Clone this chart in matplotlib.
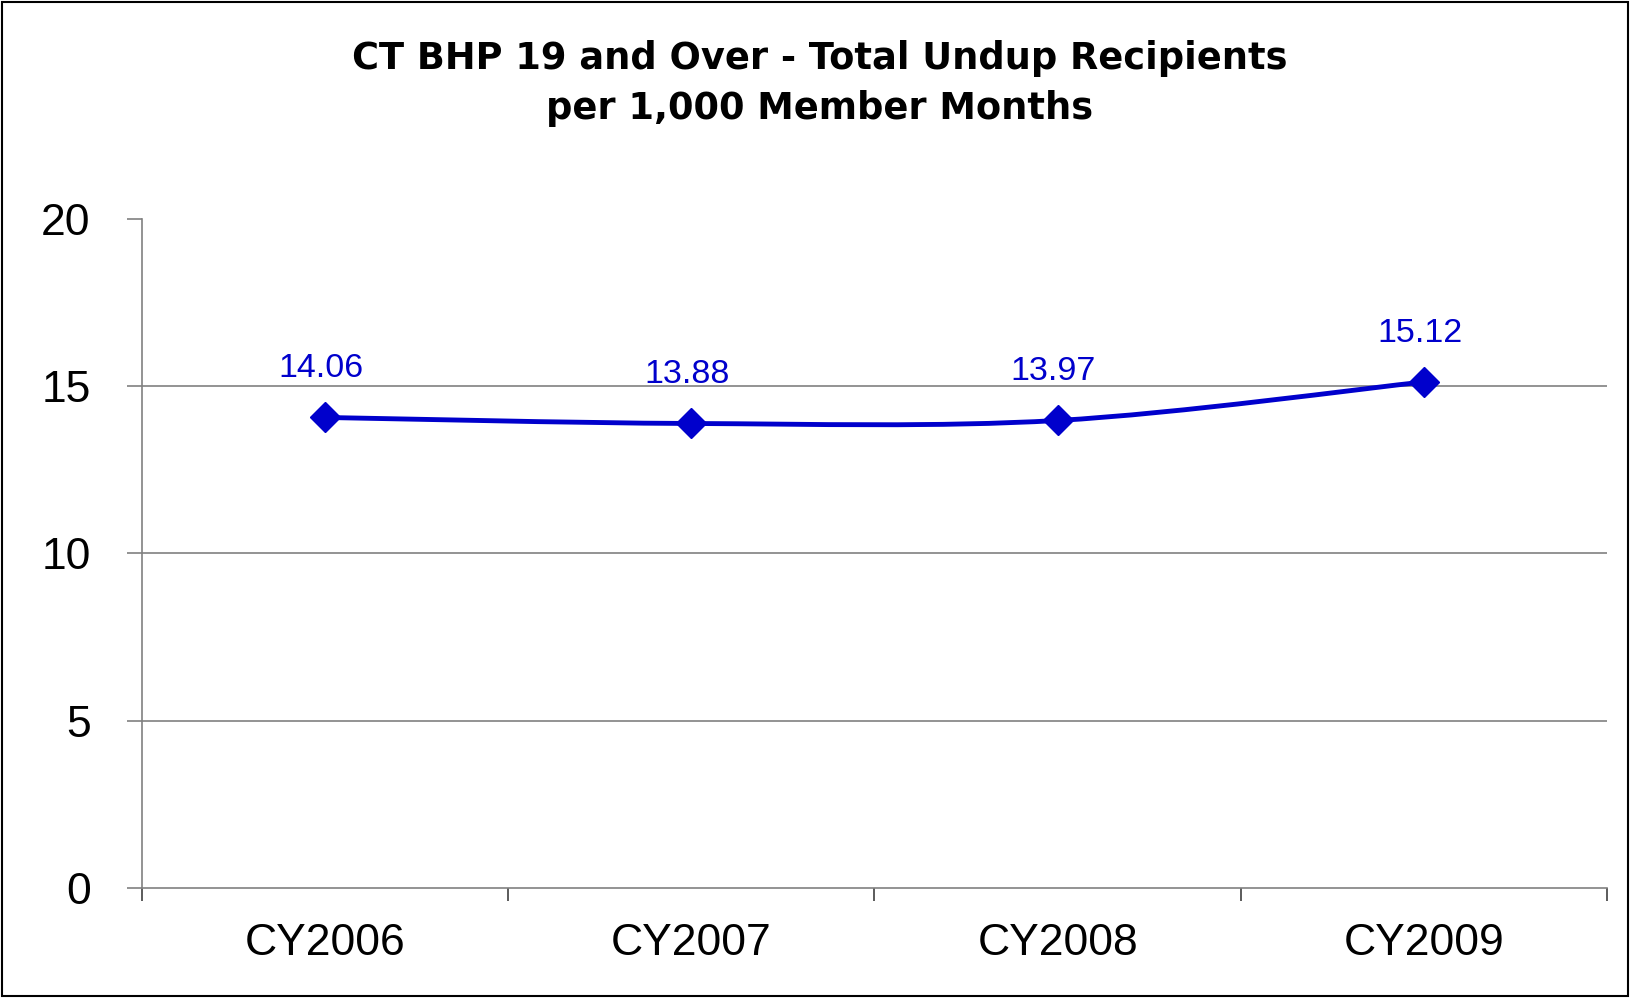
import numpy as np
import matplotlib.pyplot as plt
from matplotlib.path import Path
from matplotlib.patches import PathPatch, Rectangle

years = ['CY2006', 'CY2007', 'CY2008', 'CY2009']
rates = [14.06, 13.88, 13.97, 15.12]
y_ticks = [0, 5, 10, 15, 20]

blue = '#0000CC'
gray = '#808080'


def smooth_path(xs, ys):
    # excel style smoothed line: bezier segments through the data points
    pts = np.column_stack([xs, ys]).astype(float)
    n = len(pts)
    verts = [pts[0]]
    codes = [Path.MOVETO]
    for i in range(n - 1):
        p0 = pts[i - 1] if i > 0 else pts[i]
        p1 = pts[i]
        p2 = pts[i + 1]
        p3 = pts[i + 2] if i + 2 < n else pts[i + 1]
        c1 = p1 + (p2 - p0) / 6.0
        c2 = p2 - (p3 - p1) / 6.0
        verts += [c1, c2, p2]
        codes += [Path.CURVE4] * 3
    return Path(verts, codes)


plt.rcParams['font.family'] = ['Liberation Sans', 'DejaVu Sans']

fig = plt.figure(figsize=(16.33, 9.98), dpi=100)
ax = fig.add_axes([0.087, 0.110, 0.897, 0.671])

x = np.arange(len(years))
ax.add_patch(PathPatch(smooth_path(x, rates), facecolor='none', edgecolor=blue,
                       lw=3.5, capstyle='round', zorder=3))
ax.plot(x, rates, linestyle='none', marker='D', ms=15, color=blue, zorder=4)

for xi, v in zip(x, rates):
    ax.annotate(f'{v:.2f}', (xi, v), xytext=(-3, 35), textcoords='offset points',
                ha='center', va='center', fontsize=24.5, color=blue)

ax.set_xlim(-0.5, len(years) - 0.5)
ax.set_ylim(0, 20)
ax.set_yticks(y_ticks)
ax.set_yticklabels([str(t) for t in y_ticks])
ax.set_xticks(x)
ax.set_xticklabels(years)
ax.set_xticks(np.arange(-0.5, len(years)), minor=True)

ax.tick_params(axis='y', direction='out', length=11, width=1.2, color=gray,
               labelsize=32, pad=26)
ax.tick_params(axis='x', which='major', length=0, labelsize=32, pad=25)
ax.tick_params(axis='x', which='minor', direction='out', length=9, width=1.2, color='#404040')

ax.grid(axis='y', color=gray, lw=1.2)
ax.get_ygridlines()[-1].set_visible(False)
ax.get_ygridlines()[0].set_visible(False)
ax.set_axisbelow(True)

for s in ['top', 'right']:
    ax.spines[s].set_visible(False)
ax.spines['left'].set_color(gray)
ax.spines['bottom'].set_color(gray)
ax.spines['left'].set_linewidth(1.2)
ax.spines['bottom'].set_linewidth(1.2)

fig.text(0.502, 0.916, 'CT BHP 19 and Over - Total Undup Recipients\nper 1,000 Member Months',
         ha='center', va='center', fontsize=26.5, fontweight='bold',
         family=['DejaVu Sans'], linespacing=1.45)

fig.patches.append(Rectangle((0.0015, 0.002), 0.9955, 0.996, transform=fig.transFigure,
                             fill=False, edgecolor='black', lw=1.5))

fig.savefig('out.png', dpi=100)
